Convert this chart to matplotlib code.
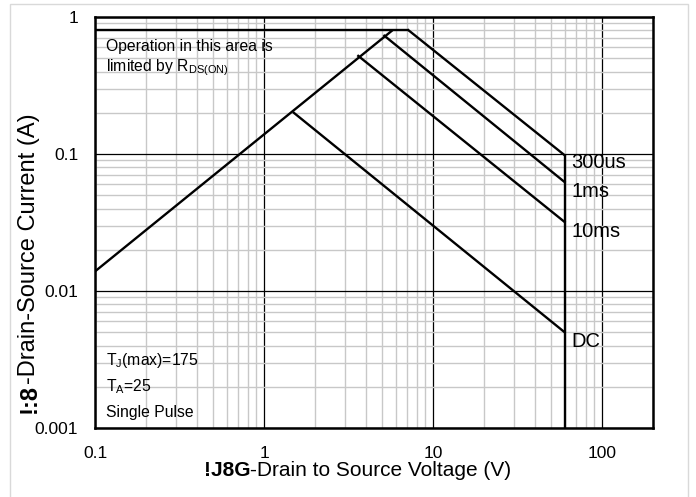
import matplotlib
matplotlib.use("Agg")
import matplotlib.pyplot as plt
from matplotlib.ticker import LogLocator, NullFormatter, FixedLocator, FixedFormatter
from matplotlib.patches import Rectangle

plt.rcParams['font.family'] = ['Liberation Sans', 'DejaVu Sans']

# ---- data ----
rds_v = [0.1, 5.75]
rds_i = [0.0139, 0.8]
limit_v = [0.1, 7.16]
limit_i = [0.8, 0.8]
curve_names = ["300us", "1ms", "10ms", "DC"]
curve_v = [[7.16, 60.0], [5.15, 60.0], [3.61, 60.0], [1.5, 60.0]]
curve_i = [[0.8, 0.098], [0.73, 0.0624], [0.52, 0.0319], [0.2, 0.005]]
bv_v = [60.0, 60.0]
bv_i = [0.098, 0.001]
label_i = [0.0874, 0.0536, 0.0274, 0.00428]
x_ticks = [0.1, 1, 10, 100]
x_ticklabels = ["0.1", "1", "10", "100"]
y_ticks = [0.001, 0.01, 0.1, 1]
y_ticklabels = ["0.001", "0.01", "0.1", "1"]

fig = plt.figure(figsize=(6.96, 4.97), dpi=100)
fig.patches.append(Rectangle((10/696, -0.01), (688-10)/696, 1 - 4/497 + 0.01,
                             transform=fig.transFigure, fill=False,
                             edgecolor='#d9d9d9', linewidth=1.0))
ax = fig.add_axes([95/696, 1-428/497, (653-95)/696, (428-17)/497])
ax.set_xscale('log')
ax.set_yscale('log')
ax.set_xlim(0.1, 200)
ax.set_ylim(0.001, 1)

ax.xaxis.set_major_locator(FixedLocator(x_ticks))
ax.xaxis.set_major_formatter(FixedFormatter(x_ticklabels))
ax.yaxis.set_major_locator(FixedLocator(y_ticks))
ax.yaxis.set_major_formatter(FixedFormatter(y_ticklabels))
ax.xaxis.set_minor_locator(LogLocator(base=10, subs=range(2, 10), numticks=20))
ax.yaxis.set_minor_locator(LogLocator(base=10, subs=range(2, 10), numticks=20))
ax.xaxis.set_minor_formatter(NullFormatter())
ax.yaxis.set_minor_formatter(NullFormatter())
ax.tick_params(which='both', length=0)
ax.tick_params(axis='x', pad=13, labelsize=12.5)
ax.tick_params(axis='y', pad=12, labelsize=12.5)

ax.grid(which='minor', color='#c8c8c8', linewidth=1.0)
ax.grid(which='major', color='black', linewidth=0.9)
ax.set_axisbelow(True)
for s in ax.spines.values():
    s.set_linewidth(1.8)

lw = 1.7
ax.plot(rds_v, rds_i, color='black', lw=lw, solid_capstyle='butt')
ax.plot(limit_v, limit_i, color='black', lw=lw, solid_capstyle='butt')
for v, i in zip(curve_v, curve_i):
    ax.plot(v, i, color='black', lw=lw)
ax.plot(bv_v, bv_i, color='black', lw=lw, solid_capstyle='butt')

for name, li in zip(curve_names, label_i):
    ax.text(66, li, name, fontsize=14.5, ha='left', va='center')

def yax(py):
    return 1 - (py - 17) / 411

tx = (106 - 95) / 558
ax.text(tx, yax(47), "Operation in this area is", transform=ax.transAxes,
        fontsize=11.3, va='center', ha='left')
ax.text(tx, yax(68), r"limited by R$_{\mathregular{DS(ON)}}$", transform=ax.transAxes,
        fontsize=11.3, va='center', ha='left')
ax.text(tx, yax(361), r"T$_{\mathregular{J}}$(max)=175", transform=ax.transAxes,
        fontsize=11.3, va='center', ha='left')
ax.text(tx, yax(387), r"T$_{\mathregular{A}}$=25", transform=ax.transAxes,
        fontsize=11.3, va='center', ha='left')
ax.text(tx, yax(413), "Single Pulse", transform=ax.transAxes,
        fontsize=11.3, va='center', ha='left')

# axis labels: bold prefix + normal text, placed sequentially
fig.canvas.draw()
r = fig.canvas.get_renderer()

def two_part(x0, y0, bold, rest, rotation, fs):
    t1 = fig.text(x0, y0, bold, fontsize=fs, fontweight='bold',
                  rotation=rotation, ha='left' if rotation == 0 else 'center',
                  va='center' if rotation == 0 else 'bottom')
    bb = t1.get_window_extent(renderer=r)
    if rotation == 0:
        t2 = fig.text(bb.x1 / fig.bbox.width, y0, rest, fontsize=fs,
                      rotation=0, ha='left', va='center')
    else:
        t2 = fig.text(x0, bb.y1 / fig.bbox.height, rest, fontsize=fs,
                      rotation=90, ha='center', va='bottom')
    return t1, t2

two_part(204/696, 1 - 470/497, "!J8G", "-Drain to Source Voltage (V)", 0, 15)
two_part(29/696, 1 - 413/497, "!:8", "-Drain-Source Current (A)", 90, 17)

fig.savefig("out.png", dpi=100)
